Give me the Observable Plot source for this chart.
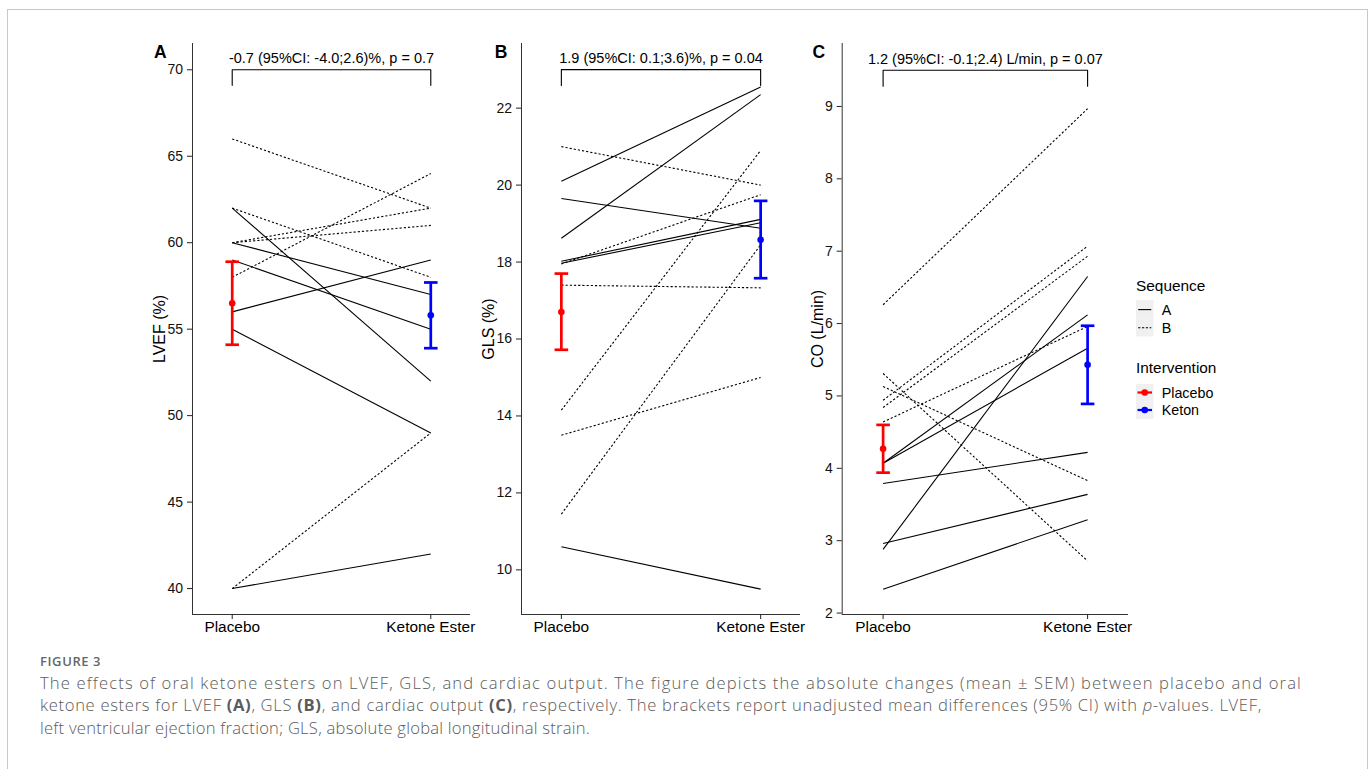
<!DOCTYPE html>
<html>
<head>
<meta charset="utf-8">
<script src="https://cdn.jsdelivr.net/npm/d3@7"></script>
<script src="https://cdn.jsdelivr.net/npm/@observablehq/plot@0.6"></script>
<style>
  html, body { margin: 0; padding: 0; background: #fff; }
  body { width: 1370px; height: 769px; overflow: hidden; position: relative; font-family: "Liberation Sans", Arial, sans-serif; }
  #frame { position: absolute; left: 7px; top: 9px; width: 1359px; height: 800px; border: 1px solid #c8c8c8; border-bottom: none; }
  .panel { position: absolute; top: 30px; }
  .panel svg { overflow: visible; background: transparent; }
  #legend { position: absolute; left: 1128px; top: 268px; }
  #caption { position: absolute; left: 40px; top: 652px; color: #5b5b5b; font-family: "Open Sans", sans-serif; }
  #caption .fig { font-size: 13px; font-weight: 600; color: #666; letter-spacing: 0.6px; margin-bottom: 2px; }
  #caption .txt { font-size: 16.6px; line-height: 22.3px; font-weight: 300; white-space: nowrap; }
  #caption .line { display: block; }
  #caption b { font-weight: 700; }
</style>
</head>
<body>
<div id="frame"></div>
<div id="pA" class="panel" style="left:100px"></div>
<div id="pB" class="panel" style="left:480px"></div>
<div id="pC" class="panel" style="left:810px"></div>
<div id="legend"></div>
<div id="caption">
  <div class="fig">FIGURE 3</div>
  <div class="txt"><span class="line" data-w="1262">The effects of oral ketone esters on LVEF, GLS, and cardiac output. The figure depicts the absolute changes (mean ± SEM) between placebo and oral</span><span class="line" data-w="1222">ketone esters for LVEF <b>(A)</b>, GLS <b>(B)</b>, and cardiac output <b>(C)</b>, respectively. The brackets report unadjusted mean differences (95% CI) with <i>p</i>-values. LVEF,</span><span class="line" data-w="550">left ventricular ejection fraction; GLS, absolute global longitudinal strain.</span></div>
</div>
<script>
// ---------- data ----------
const conditions = ["Placebo", "Ketone Ester"];
const interventions = ["Placebo", "Keton"];
const interventionColors = ["#ff0000", "#0000ff"];
const sequences = ["A", "B"];

// Panel A: LVEF (%)
const lvefSequence = ["B", "B", "B", "B", "B", "B", "A", "A", "A", "A", "A", "A"];
const lvefPlacebo  = [66, 62, 60, 60, 58, 40, 62, 60, 59, 56, 55, 40];
const lvefKetone   = [62, 58, 62, 61, 64, 49, 52, 57, 55, 59, 49, 42];
const lvefMean = [56.5, 55.8];
const lvefLow  = [54.1, 53.9];
const lvefHigh = [58.9, 57.7];
const lvefTicks = [40, 45, 50, 55, 60, 65, 70];
const lvefBracket = [69.1, 70];
const lvefLabel = "-0.7 (95%CI: -4.0;2.6)%, p = 0.7";

// Panel B: GLS (%)
const glsSequence = ["A", "A", "A", "A", "A", "A", "B", "B", "B", "B", "B", "B"];
const glsPlacebo  = [20.1, 18.62, 19.65, 18.02, 17.97, 10.6, 21.0, 17.95, 17.4, 14.15, 11.45, 13.5];
const glsKetone   = [22.55, 22.35, 18.88, 19.11, 19.02, 9.5, 20.0, 19.75, 17.33, 20.9, 18.45, 15.0];
const glsMean = [16.7, 18.58];
const glsLow  = [15.72, 17.58];
const glsHigh = [17.7, 19.59];
const glsTicks = [10, 12, 14, 16, 18, 20, 22];
const glsBracket = [22.59, 23.0];
const glsLabel = "1.9 (95%CI: 0.1;3.6)%, p = 0.04";

// Panel C: CO (L/min)
const coSequence = ["A", "A", "A", "A", "A", "A", "B", "B", "B", "B", "B", "B"];
const coPlacebo  = [4.07, 4.07, 3.79, 2.96, 2.33, 2.88, 6.26, 4.94, 4.84, 4.64, 5.31, 5.13];
const coKetone   = [6.12, 5.66, 4.22, 3.64, 3.29, 6.65, 8.97, 7.07, 6.93, 5.96, 2.72, 3.83];
const coMean = [4.27, 5.43];
const coLow  = [3.94, 4.89];
const coHigh = [4.60, 5.97];
const coTicks = [2, 3, 4, 5, 6, 7, 8, 9];
const coBracket = [9.28, 9.5];
const coLabel = "1.2 (95%CI: -0.1;2.4) L/min, p = 0.07";

// ---------- drawing ----------
const FONT = "'Liberation Sans', Arial, sans-serif";
const xDomain = [-0.2, 1.2];
const capSymbol = {
  draw(context, size) {
    const r = Math.sqrt(size / Math.PI);
    context.moveTo(-r, 0);
    context.lineTo(r, 0);
  }
};

function panel(cfg) {
  const rows = cfg.placebo.map((p, i) => ({seq: cfg.seq[i], p, k: cfg.ketone[i]}));
  const summary = conditions.map((c, i) => ({i, who: interventions[i], mean: cfg.mean[i], lo: cfg.low[i], hi: cfg.high[i]}));
  const bracket = [
    {x: 0, y: cfg.bracket[0]}, {x: 0, y: cfg.bracket[1]},
    {x: 1, y: cfg.bracket[1]}, {x: 1, y: cfg.bracket[0]}
  ];
  return Plot.plot({
    width: cfg.width,
    height: 620,
    marginLeft: cfg.marginLeft,
    marginRight: 10,
    marginTop: 13,
    marginBottom: 36,
    style: {fontFamily: FONT, background: "transparent", overflow: "visible", color: "#222"},
    x: {type: "linear", domain: xDomain},
    y: {domain: cfg.domain},
    color: {domain: interventions, range: interventionColors},
    marks: [
      Plot.ruleY([cfg.domain[0]], {stroke: "#333", strokeWidth: 1}),
      Plot.ruleX([xDomain[0]], {stroke: "#333", strokeWidth: 1}),
      Plot.axisY({ticks: cfg.ticks, tickSize: 5, tickPadding: 4.5, fontSize: 14, label: null, fill: "#111"}),
      Plot.axisX({ticks: [0, 1], tickFormat: i => conditions[i], tickSize: 5, tickPadding: 2, fontSize: 15.4, label: null, fill: "black"}),
      Plot.link(rows.filter(d => d.seq === "A"), {x1: 0, x2: 1, y1: "p", y2: "k", stroke: "black", strokeWidth: 1.1}),
      Plot.link(rows.filter(d => d.seq === "B"), {x1: 0, x2: 1, y1: "p", y2: "k", stroke: "black", strokeWidth: 1.1, strokeDasharray: "2.2,2"}),
      Plot.ruleX(summary, {x: "i", y1: "lo", y2: "hi", stroke: "who", strokeWidth: 2.7}),
      Plot.dot(summary, {x: "i", y: "hi", symbol: capSymbol, r: 6.8, stroke: "who", strokeWidth: 2.7}),
      Plot.dot(summary, {x: "i", y: "lo", symbol: capSymbol, r: 6.8, stroke: "who", strokeWidth: 2.7}),
      Plot.dot(summary, {x: "i", y: "mean", r: 3.3, fill: "who", stroke: null}),
      Plot.line(bracket, {x: "x", y: "y", stroke: "black", strokeWidth: 1.1}),
      Plot.text([cfg.label], {x: 0.5, y: cfg.bracket[1], text: d => d, dy: -11, fontSize: 14.5, fill: "black"}),
      Plot.text([cfg.letter], {frameAnchor: "top-left", dx: cfg.letterDx, dy: 9, text: d => d, fontSize: 17.5, fontWeight: "bold", textAnchor: "middle", lineAnchor: "middle", fill: "black"}),
      Plot.text([cfg.yLabel], {frameAnchor: "left", dx: cfg.labelDx, rotate: -90, text: d => d, fontSize: 16, textAnchor: "middle", lineAnchor: "middle", fill: "black"})
    ]
  });
}

document.getElementById("pA").append(panel({
  seq: lvefSequence, placebo: lvefPlacebo, ketone: lvefKetone,
  mean: lvefMean, low: lvefLow, high: lvefHigh, ticks: lvefTicks,
  bracket: lvefBracket, label: lvefLabel, letter: "A", yLabel: "LVEF (%)",
  domain: [38.5, 71.52], width: 380, marginLeft: 92, letterDx: -32.3, labelDx: -32.5
}));
document.getElementById("pB").append(panel({
  seq: glsSequence, placebo: glsPlacebo, ketone: glsKetone,
  mean: glsMean, low: glsLow, high: glsHigh, ticks: glsTicks,
  bracket: glsBracket, label: glsLabel, letter: "B", yLabel: "GLS (%)",
  domain: [8.84, 23.68], width: 330, marginLeft: 41, letterDx: -20.5, labelDx: -32.7
}));
document.getElementById("pC").append(panel({
  seq: coSequence, placebo: coPlacebo, ketone: coKetone,
  mean: coMean, low: coLow, high: coHigh, ticks: coTicks,
  bracket: coBracket, label: coLabel, letter: "C", yLabel: "CO (L/min)",
  domain: [1.98, 9.87], width: 328, marginLeft: 31.7, letterDx: -23.4, labelDx: -24.2
}));

// ---------- legend ----------
(function legend() {
  const svg = d3.select("#legend").append("svg")
    .attr("width", 130).attr("height", 160)
    .style("font-family", FONT).style("overflow", "visible");
  const ox = 8;
  svg.append("text").attr("x", ox).attr("y", 22.7).attr("font-size", 15.4).attr("fill", "black").text("Sequence");
  sequences.forEach((s, i) => {
    const y0 = 32 + i * 18.2;
    svg.append("rect").attr("x", ox).attr("y", y0).attr("width", 17.5).attr("height", 18.2).attr("fill", "#f0f0f0");
    svg.append("line").attr("x1", ox + 2.2).attr("x2", ox + 15.3).attr("y1", y0 + 9.6).attr("y2", y0 + 9.6)
      .attr("stroke", "black").attr("stroke-width", 1.1).attr("stroke-dasharray", s === "B" ? "2.2,1.6" : null);
    svg.append("text").attr("x", ox + 25.7).attr("y", y0 + 9.6).attr("dy", "0.35em").attr("font-size", 14.3).attr("fill", "black").text(s);
  });
  svg.append("text").attr("x", ox).attr("y", 105.3).attr("font-size", 15.4).attr("fill", "black").text("Intervention");
  interventions.forEach((s, i) => {
    const y0 = 116 + i * 17.5;
    svg.append("rect").attr("x", ox).attr("y", y0).attr("width", 17.5).attr("height", 17.5).attr("fill", "#f0f0f0");
    svg.append("line").attr("x1", ox + 1.5).attr("x2", ox + 16).attr("y1", y0 + 8.5).attr("y2", y0 + 8.5)
      .attr("stroke", interventionColors[i]).attr("stroke-width", 2.2);
    svg.append("circle").attr("cx", ox + 8.75).attr("cy", y0 + 8.5).attr("r", 3.3).attr("fill", interventionColors[i]);
    svg.append("text").attr("x", ox + 25.7).attr("y", y0 + 8.5).attr("dy", "0.35em").attr("font-size", 14.3).attr("fill", "black").text(s);
  });
})();

// ---------- caption fit: each line spans the width it has in the reference ----------
(function fitCaption() {
  document.querySelectorAll("#caption .line").forEach(line => {
    line.style.display = "inline-block";
    const natural = line.getBoundingClientRect().width;
    const chars = line.textContent.length;
    const target = +line.dataset.w;
    line.style.letterSpacing = ((target - natural) / chars).toFixed(3) + "px";
    line.style.display = "block";
  });
})();
</script>
</body>
</html>
